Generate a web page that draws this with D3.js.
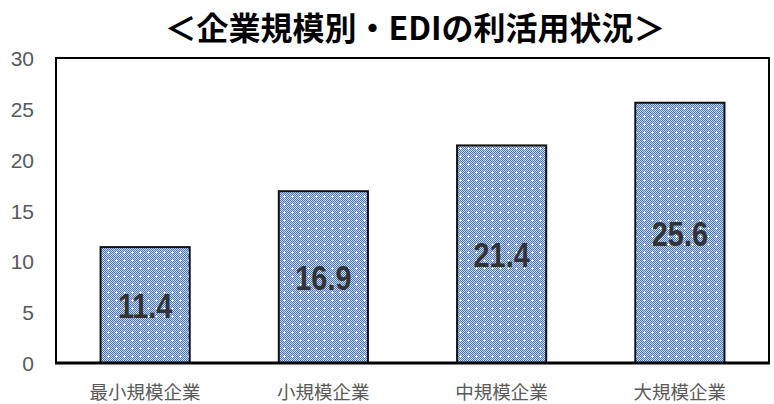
<!DOCTYPE html>
<html>
<head>
<meta charset="utf-8">
<script src="https://cdn.jsdelivr.net/npm/d3@7"></script>
<style>
  html, body { margin: 0; padding: 0; background: #fff; }
  svg { display: block; }
</style>
</head>
<body>
<svg id="chart"></svg>
<script>
const categories = ["最小規模企業", "小規模企業", "中規模企業", "大規模企業"]
const values = [11.4, 16.9, 21.4, 25.6]
const yTicks = [0, 5, 10, 15, 20, 25, 30]
const title = "＜企業規模別・EDIの利活用状況＞"

const width = 774, height = 404
const plot = { left: 56, right: 769, top: 58, bottom: 363 }

const svg = d3.select("#chart").attr("width", width).attr("height", height)

// blue checker fill with small white dots, like the office pattern fill
const defs = svg.append("defs")
const pat = defs.append("pattern")
  .attr("id", "checker")
  .attr("patternUnits", "userSpaceOnUse")
  .attr("width", 8)
  .attr("height", 8)
pat.append("rect").attr("width", 8).attr("height", 8).attr("fill", "#cfdcf2")
for (let i = 0; i < 8; i++) {
  for (let j = 0; j < 8; j++) {
    if ((i + j) % 2 === 0) {
      pat.append("rect").attr("x", i).attr("y", j).attr("width", 1).attr("height", 1).attr("fill", "#4472c4")
    }
  }
}
// white dot (little cross)
pat.append("rect").attr("x", 3).attr("y", 4).attr("width", 3).attr("height", 1).attr("fill", "#ffffff")
pat.append("rect").attr("x", 4).attr("y", 3).attr("width", 1).attr("height", 3).attr("fill", "#ffffff")

const x = d3.scaleBand()
  .domain(categories)
  .range([plot.left, plot.right])
  .paddingInner(0.5)
  .paddingOuter(0.25)

const y = d3.scaleLinear().domain([0, 30]).range([plot.bottom, plot.top])

// title
svg.append("text")
  .attr("x", 415)
  .attr("y", 40)
  .attr("text-anchor", "middle")
  .style("font-family", "'Noto Sans CJK JP', sans-serif")
  .style("font-weight", "700")
  .style("font-size", "32px")
  .style("fill", "#000")
  .text(title)

// y tick labels
svg.append("g").selectAll("text")
  .data(yTicks)
  .join("text")
  .attr("x", 34)
  .attr("y", d => y(d) + 8)
  .attr("text-anchor", "end")
  .style("font-family", "'Liberation Sans', Arial, sans-serif")
  .style("font-size", "21px")
  .style("fill", "#595959")
  .text(d => d)

// bars
svg.append("g").selectAll("rect")
  .data(values)
  .join("rect")
  .attr("x", (d, i) => x(categories[i]))
  .attr("y", d => y(d))
  .attr("width", x.bandwidth())
  .attr("height", d => y(0) - y(d))
  .attr("fill", "url(#checker)")
  .attr("stroke", "#111")
  .attr("stroke-width", 2)

// value labels
svg.append("g").selectAll("text")
  .data(values)
  .join("text")
  .attr("transform", (d, i) => {
    const cx = x(categories[i]) + x.bandwidth() / 2
    const cy = (y(d) + y(0)) / 2 + 13
    return `translate(${cx},${cy}) scale(0.8,1)`
  })
  .attr("text-anchor", "middle")
  .style("font-family", "'Liberation Sans', Arial, sans-serif")
  .style("font-size", "36px")
  .style("font-weight", "700")
  .style("fill", "#333")
  .text(d => d.toFixed(1))

// plot frame
svg.append("rect")
  .attr("x", plot.left)
  .attr("y", plot.top)
  .attr("width", plot.right - plot.left)
  .attr("height", plot.bottom - plot.top)
  .attr("fill", "none")
  .attr("stroke", "#000")
  .attr("stroke-width", 2)

// x axis line (heavier)
svg.append("line")
  .attr("x1", plot.left - 1)
  .attr("x2", plot.right + 1)
  .attr("y1", plot.bottom)
  .attr("y2", plot.bottom)
  .attr("stroke", "#000")
  .attr("stroke-width", 3)

// category labels
svg.append("g").selectAll("text")
  .data(categories)
  .join("text")
  .attr("x", d => x(d) + x.bandwidth() / 2)
  .attr("y", 399)
  .attr("text-anchor", "middle")
  .style("font-family", "'Noto Sans CJK JP', sans-serif")
  .style("font-size", "18.5px")
  .style("fill", "#595959")
  .text(d => d)
</script>
</body>
</html>
